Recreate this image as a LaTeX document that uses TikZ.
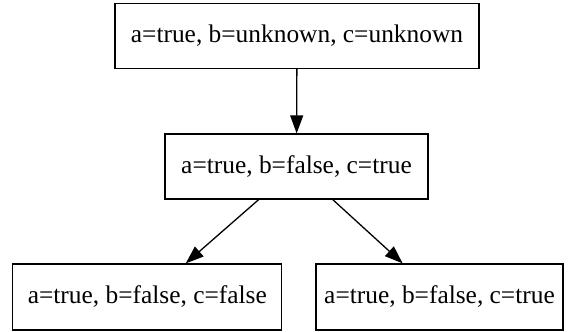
\documentclass[tikz,border=0pt]{standalone}
\usepackage{fontspec}
\setmainfont{Liberation Serif}
\usetikzlibrary{arrows.meta}
\begin{document}
\begin{tikzpicture}[x=1pt,y=-1pt,
  statebox/.style={draw=black, line width=1.3pt, rectangle, inner sep=0pt,
    font=\fontsize{25.4}{30}\selectfont, text=black},
  edge/.style={draw=black, line width=1.3pt, -{Triangle[length=18pt,width=13pt]}}]
\useasboundingbox (0,0) rectangle (568,332);
\node[statebox, minimum width=364pt, minimum height=65pt] (top) at (297,35.8) {a=true, b=unknown, c=unknown};
\node[statebox, minimum width=263pt, minimum height=65pt] (mid) at (296.5,166.5) {a=true, b=false, c=true};
\node[statebox, minimum width=269pt, minimum height=66pt] (left) at (147.3,297) {a=true, b=false, c=false};
\node[statebox, minimum width=247pt, minimum height=66pt] (right) at (439.5,297) {a=true, b=false, c=true};
\draw[edge] (top) -- (mid);
\draw[edge] (mid) -- (left);
\draw[edge] (mid) -- (right);
\end{tikzpicture}
\end{document}
